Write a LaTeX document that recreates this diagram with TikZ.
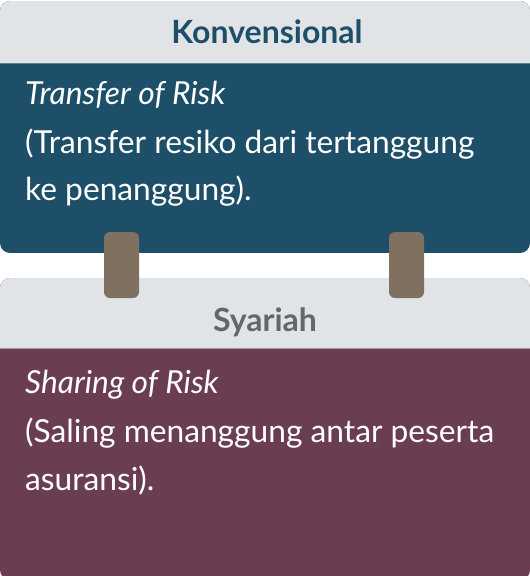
\documentclass[tikz,border=0pt]{standalone}
\usepackage{fontspec}
\setmainfont{Lato}
\definecolor{hdrgray}{HTML}{E1E4E7}
\definecolor{konblue}{HTML}{1D4F68}
\definecolor{konline}{HTML}{5C7F92}
\definecolor{syapurple}{HTML}{6A3D52}
\definecolor{syaline}{HTML}{A8959F}
\definecolor{tabbrown}{HTML}{7F7060}
\definecolor{syagray}{HTML}{646668}
\tikzset{
  hdrtext/.style={anchor=base, inner sep=0pt, font=\fontsize{32}{38}\selectfont\bfseries},
  bodytext/.style={anchor=base west, inner sep=0pt, text=white, font=\fontsize{31.7}{38}\selectfont},
  tabbox/.style={fill=tabbrown, rounded corners=6pt, minimum width=35pt, minimum height=66pt, inner sep=0pt}
}
\begin{document}
\begin{tikzpicture}[x=1pt,y=-1pt]
\useasboundingbox (0,0) rectangle (530,576);
\clip (0,0) rectangle (530,576);
% top card
\begin{scope}
\clip[rounded corners=10pt] (0,1) rectangle (530,253);
\fill[konblue] (0,1) rectangle (530,253);
\fill[hdrgray] (0,1) rectangle (530,63);
\draw[konline, line width=1pt] (0,63.5) -- (530,63.5);
\end{scope}
% bottom card
\begin{scope}
\clip[rounded corners=10pt] (0,278) rectangle (530,580);
\fill[syapurple] (0,278) rectangle (530,580);
\fill[hdrgray] (0,278) rectangle (530,348);
\draw[syaline, line width=1pt] (0,348.5) -- (530,348.5);
\end{scope}
% texts
\node[hdrtext, text=konblue] (konh) at (267,43) {Konvensional};
\node[bodytext] (kon1) at (25,104) {\itshape Transfer of Risk};
\node[bodytext] (kon2) at (25,153) {(Transfer resiko dari tertanggung};
\node[bodytext] (kon3) at (25,200) {ke penanggung).};
\node[hdrtext, text=syagray] (syah) at (265,331) {Syariah};
\node[bodytext] (sya1) at (25,393) {\itshape Sharing of Risk};
\node[bodytext] (sya2) at (25,442) {(Saling menanggung antar peserta};
\node[bodytext] (sya3) at (25,490) {asuransi).};
% tabs
\node[tabbox] (tabl) at (121.5,265) {};
\node[tabbox] (tabr) at (406.5,265) {};
\end{tikzpicture}
\end{document}
